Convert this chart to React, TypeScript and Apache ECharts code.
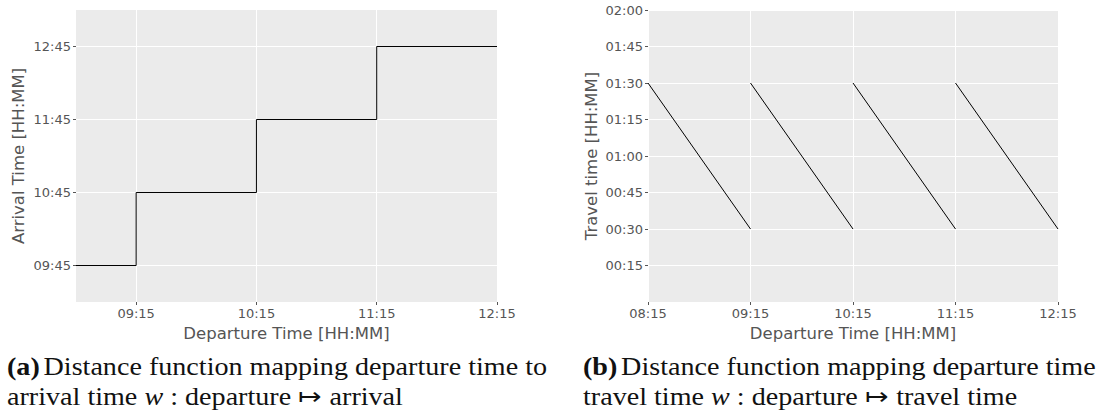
import React, { useEffect, useRef } from "react";
import * as echarts from "echarts";

// ---- data (HH:MM strings) ----
const leftDeparture = ["08:45", "09:15", "10:15", "11:15", "12:15"];
const leftArrival = ["09:45", "10:45", "11:45", "12:45", "12:45"];
const leftXTicks = ["09:15", "10:15", "11:15", "12:15"];
const leftYTicks = ["09:45", "10:45", "11:45", "12:45"];
const leftXRange = ["08:45", "12:15"];
const leftYRange = ["09:15", "13:15"];

const travelStart = ["08:15", "09:15", "10:15", "11:15"];
const travelEnd = ["09:15", "10:15", "11:15", "12:15"];
const travelHigh = ["01:30", "01:30", "01:30", "01:30"];
const travelLow = ["00:30", "00:30", "00:30", "00:30"];
const rightXTicks = ["08:15", "09:15", "10:15", "11:15", "12:15"];
const rightYTicks = ["00:15", "00:30", "00:45", "01:00", "01:15", "01:30", "01:45", "02:00"];
const rightXRange = ["08:15", "12:15"];
const rightYRange = ["00:00", "02:00"];

const captionA = ["Distance function mapping departure time to", "arrival time ", "w", " : departure \u21A6 arrival"];
const captionB = ["Distance function mapping departure time", "travel time ", "w", " : departure \u21A6 travel time"];

const toMin = (s: string) => {
  const [h, m] = s.split(":").map(Number);
  return h * 60 + m;
};
const fmt = (v: number) => {
  const h = Math.floor(v / 60);
  const m = Math.round(v - h * 60);
  return String(h).padStart(2, "0") + ":" + String(m).padStart(2, "0");
};

const SANS = "DejaVu Sans";
const LABEL_COLOR = "#555555";
const SERIF = "Liberation Serif";
const CAP_SIZE = 25;

function axis(base: any) {
  return {
    type: "value",
    axisLine: { show: false },
    axisTick: { show: true, length: 3, lineStyle: { color: "#555", width: 1 }, customValues: base.ticks },
    axisLabel: {
      customValues: base.ticks,
      formatter: (v: number) => fmt(v),
      color: LABEL_COLOR,
      fontFamily: SANS,
      fontSize: 13,
      margin: 5,
    },
    splitLine: { show: true, lineStyle: { color: "#ffffff", width: 1 } },
    nameLocation: "middle",
    nameTextStyle: { color: LABEL_COLOR, fontFamily: SANS, fontSize: 16.5 },
    ...base.rest,
  };
}

export default function App() {
  const ref = useRef<HTMLDivElement>(null);
  useEffect(() => {
    document.body.style.margin = "0";
    const chart = echarts.init(ref.current!, undefined, { renderer: "svg" });
    const leftData = leftDeparture.map((d, i) => [toMin(d), toMin(leftArrival[i])]);
    const rightSeries = travelStart.map((s, i) => ({
      type: "line",
      xAxisIndex: 1,
      yAxisIndex: 1,
      showSymbol: false,
      symbol: "none",
      lineStyle: { color: "#000", width: 1 },
      data: [
        [toMin(s), toMin(travelHigh[i])],
        [toMin(travelEnd[i]), toMin(travelLow[i])],
      ],
    }));

    const r = { fontFamily: SERIF, fontSize: CAP_SIZE, fill: "#111" };
    const caption = (x: number, tag: string, parts: string[]) => ({
      type: "group",
      children: [
        {
          type: "text",
          x,
          y: 354,
          scaleX: 1.125,
          style: {
            text: `{b|(${tag})} {r|${parts[0]}}`,
            rich: {
              b: { ...r, fontWeight: "bold" },
              r,
            },
          },
        },
        {
          type: "text",
          x,
          y: 384,
          scaleX: 1.125,
          style: {
            text: `{r|${parts[1]}}{i|${parts[2]}}{r|${parts[3]}}`,
            rich: {
              r,
              i: { ...r, fontStyle: "italic" },
            },
          },
        },
      ],
    });

    chart.setOption({
      animation: false,
      grid: [
        { left: 76, top: 10, width: 421, height: 292, show: true, backgroundColor: "#EBEBEB", borderWidth: 0 },
        { left: 648, top: 10, width: 410, height: 292, show: true, backgroundColor: "#EBEBEB", borderWidth: 0 },
      ],
      xAxis: [
        axis({
          ticks: leftXTicks.map(toMin),
          rest: { gridIndex: 0, min: toMin(leftXRange[0]), max: toMin(leftXRange[1]), name: "Departure Time [HH:MM]", nameGap: 20 },
        }),
        axis({
          ticks: rightXTicks.map(toMin),
          rest: { gridIndex: 1, min: toMin(rightXRange[0]), max: toMin(rightXRange[1]), name: "Departure Time [HH:MM]", nameGap: 20 },
        }),
      ],
      yAxis: [
        axis({
          ticks: leftYTicks.map(toMin),
          rest: { gridIndex: 0, min: toMin(leftYRange[0]), max: toMin(leftYRange[1]), name: "Arrival Time [HH:MM]", nameGap: 49 },
        }),
        axis({
          ticks: rightYTicks.map(toMin),
          rest: { gridIndex: 1, min: toMin(rightYRange[0]), max: toMin(rightYRange[1]), name: "Travel time [HH:MM]", nameGap: 48 },
        }),
      ],
      series: [
        {
          type: "line",
          xAxisIndex: 0,
          yAxisIndex: 0,
          step: "end",
          showSymbol: false,
          symbol: "none",
          lineStyle: { color: "#000", width: 1 },
          data: leftData,
        },
        ...rightSeries,
      ],
      graphic: [caption(7, "a", captionA), caption(583, "b", captionB)],
    });
    return () => chart.dispose();
  }, []);
  return <div ref={ref} style={{ width: 1097, height: 413 }} />;
}
